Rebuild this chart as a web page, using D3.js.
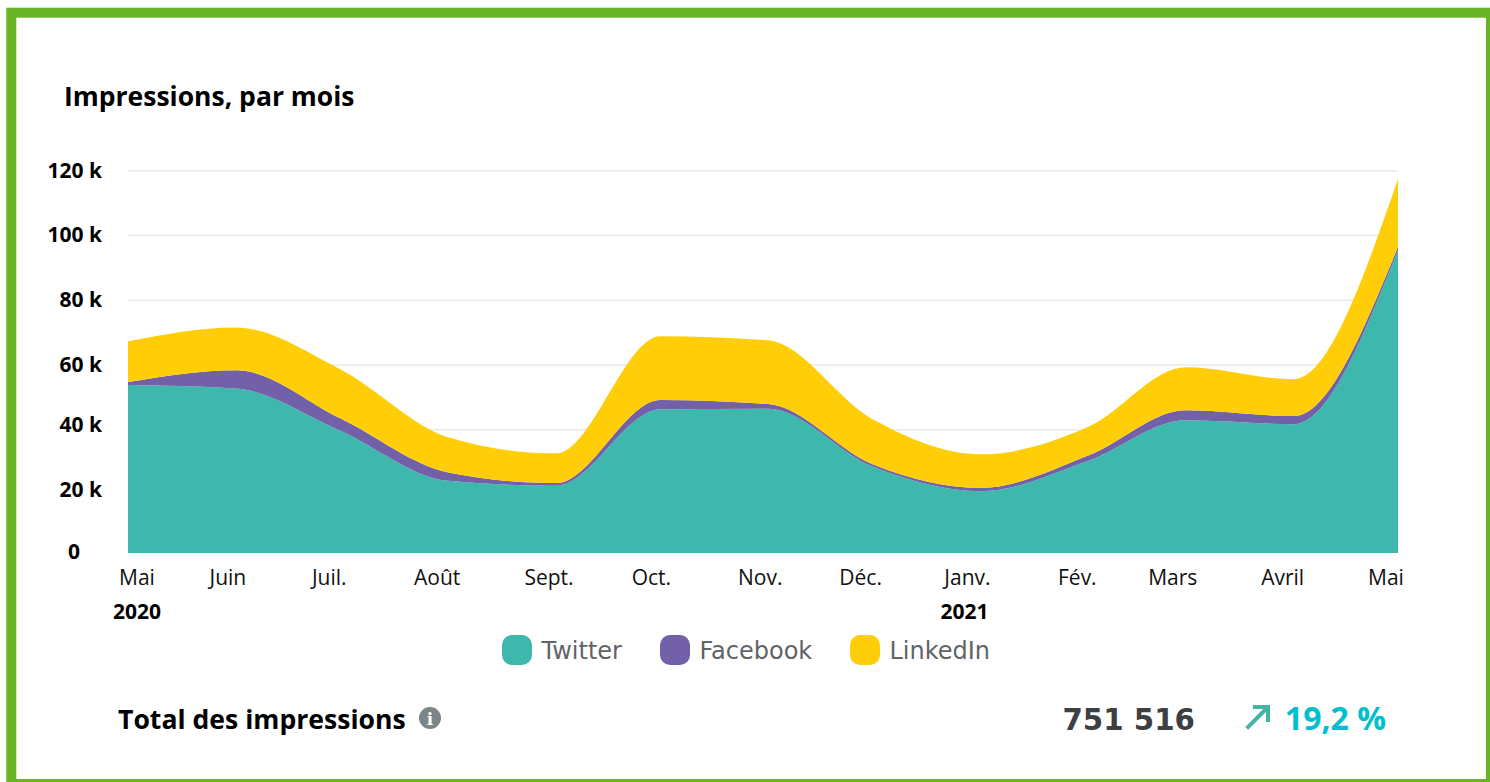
<!DOCTYPE html>
<html>
<head>
<meta charset="utf-8">
<script src="https://cdn.jsdelivr.net/npm/d3@7"></script>
<style>
html, body { margin: 0; padding: 0; background: #fff; overflow: hidden; }
svg { display: block; font-family: "Open Sans", sans-serif; }
</style>
</head>
<body>
<svg width="1490" height="782"></svg>
<script>
// donnees
const mois = ['2020-05-01','2020-06-01','2020-07-01','2020-08-01','2020-09-01','2020-10-01','2020-11-01','2020-12-01','2021-01-01','2021-02-01','2021-03-01','2021-04-01','2021-05-01'];
const moisLabels = ['Mai','Juin','Juil.','Août','Sept.','Oct.','Nov.','Déc.','Janv.','Fév.','Mars','Avril','Mai'];
const twitter = [53800, 52700, 39700, 24200, 22700, 46300, 46500, 28600, 21000, 30400, 42900, 41700, 95500];
const facebook = [900, 5700, 3800, 2600, 800, 2900, 1400, 700, 1000, 1600, 3100, 2500, 1000];
const linkedin = [12600, 13200, 15200, 10900, 9200, 19700, 19700, 13900, 10400, 8900, 13300, 11400, 20900];
const series = ['Twitter','Facebook','LinkedIn'];
const couleurs = ['#3eb8ac','#7260a8','#ffce08'];
const yTicks = [0, 20000, 40000, 60000, 80000, 100000, 120000];
const annees = [['2020-05-01','2020'],['2021-01-01','2021']];

// decalages des libelles par rapport a leur graduation
const moisDecal = [9, -8, -11, -11, -7, -9, -8, -12, -13, -11, -13, -11, -12];
const yDecal = [-7, -4, -5, 0, 0, 0, 0];

const parse = d3.utcParse('%Y-%m-%d');
const svg = d3.select('svg');

// cadre vert
svg.append('rect').attr('x', 11.3).attr('y', 12.7).attr('width', 1479.7).attr('height', 771.3)
  .attr('fill', '#fff').attr('stroke', '#69b326').attr('stroke-width', 10);

const x = d3.scaleUtc().domain(d3.extent(mois, parse)).range([128, 1398]);
const y = d3.scaleLinear().domain([0, 120000]).range([559.2, 170.7]);

// grille
svg.append('g').selectAll('line').data(yTicks.slice(1)).join('line')
  .attr('x1', 128).attr('x2', 1398)
  .attr('y1', d => y(d)).attr('y2', d => y(d))
  .attr('stroke', '#e9e9e9').attr('stroke-width', 1.5);

// aires empilees, coupees au bas du trace
svg.append('clipPath').attr('id', 'trace').append('rect')
  .attr('x', 128).attr('y', 160).attr('width', 1270).attr('height', 393);
const table = mois.map((m, i) => ({ date: parse(m), Twitter: twitter[i], Facebook: facebook[i], LinkedIn: linkedin[i] }));
const stack = d3.stack().keys(series)(table);
const area = d3.area().curve(d3.curveMonotoneX)
  .x(d => x(d.data.date)).y0(d => y(d[0])).y1(d => y(d[1]));
svg.append('g').attr('clip-path', 'url(#trace)').selectAll('path').data(stack).join('path')
  .attr('d', area).attr('fill', (d, i) => couleurs[i]);

// axe y
svg.append('g').selectAll('text').data(yTicks).join('text')
  .attr('x', d => d === 0 ? 80 : 102).attr('y', (d, i) => y(d) + yDecal[i] + 7)
  .attr('text-anchor', 'end').attr('font-size', 21).attr('font-weight', 700).attr('fill', '#000')
  .text(d => d === 0 ? '0' : (d / 1000) + ' k');

// axe x
svg.append('g').selectAll('text').data(mois).join('text')
  .attr('x', (d, i) => x(parse(d)) + moisDecal[i]).attr('y', 585)
  .attr('text-anchor', 'middle').attr('font-size', 21).attr('fill', '#111')
  .text((d, i) => moisLabels[i]);
svg.append('g').selectAll('text').data(annees).join('text')
  .attr('x', (d, i) => i === 0 ? 137 : x(parse(d[0])) - 16).attr('y', 619)
  .attr('text-anchor', 'middle').attr('font-size', 21).attr('font-weight', 700).attr('fill', '#000')
  .text(d => d[1]);

// titre
svg.append('text').attr('x', 64).attr('y', 106).attr('font-size', 26.5).attr('font-weight', 700).attr('fill', '#000')
  .text('Impressions, par mois');

// legende
const legX = [502, 660, 850];
const leg = svg.append('g').selectAll('g').data(series).join('g')
  .attr('transform', (d, i) => `translate(${legX[i]},635)`);
leg.append('rect').attr('width', 30).attr('height', 30).attr('rx', 10)
  .attr('fill', (d, i) => couleurs[i]);
leg.append('text').attr('x', 39.5).attr('y', 24).attr('font-size', 24)
  .attr('font-family', '"DejaVu Sans", sans-serif').attr('fill', '#5f6468').text(d => d);

// bas de page
svg.append('text').attr('x', 118).attr('y', 729).attr('font-size', 26.6).attr('font-weight', 700).attr('fill', '#000')
  .text('Total des impressions');
svg.append('circle').attr('cx', 430).attr('cy', 718).attr('r', 11).attr('fill', '#7c8688');
svg.append('text').attr('x', 430).attr('y', 725).attr('text-anchor', 'middle').attr('font-size', 17)
  .attr('font-weight', 700).attr('font-family', '"DejaVu Serif", serif').attr('fill', '#fff').text('i');
svg.append('text').attr('x', 1195).attr('y', 730).attr('text-anchor', 'end').attr('font-size', 29.3).attr('font-weight', 700)
  .attr('font-family', '"DejaVu Sans", sans-serif').attr('fill', '#3d4043').text('751 516');
svg.append('path').attr('d', 'M1246.7,728.3 L1268,707 M1253,707 L1268,707 L1268,722')
  .attr('fill', 'none').attr('stroke', '#43b5a6').attr('stroke-width', 4);
svg.append('text').attr('x', 1386).attr('y', 730).attr('text-anchor', 'end').attr('font-size', 32).attr('font-weight', 700)
  .attr('fill', '#00c0d0').text('19,2 %');
</script>
</body>
</html>
